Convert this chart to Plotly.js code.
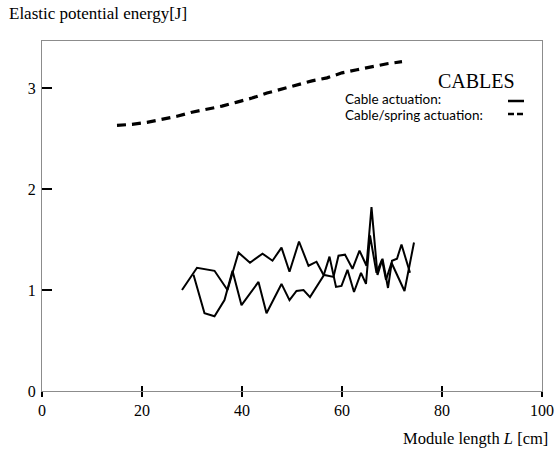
<!DOCTYPE html>
<html>
<head>
<meta charset="utf-8">
<script src="https://cdn.plot.ly/plotly-3.0.1.min.js"></script>
<style>html,body{margin:0;padding:0;background:#fff;}#chart{width:555px;height:450px;}</style>
</head>
<body>
<div id="chart"></div>
<script>
// Cable actuation (series A)
const cableAX = [28.0, 31.0, 34.5, 37.1, 39.3, 41.6, 44.1, 46.1, 47.9, 49.5, 51.4, 53.3, 54.9, 56.3, 58.3, 59.3, 60.6, 62.1, 63.5, 64.9, 65.9, 67.1, 68.1, 69.2, 70.0, 71.0, 71.9, 73.6];
const cableAY = [1.00, 1.22, 1.19, 1.00, 1.37, 1.27, 1.36, 1.29, 1.42, 1.18, 1.48, 1.24, 1.28, 1.15, 1.13, 1.34, 1.35, 1.21, 1.39, 1.24, 1.82, 1.15, 1.31, 1.02, 1.29, 1.31, 1.45, 1.17];
// Cable actuation (series B)
const cableBX = [30.3, 32.5, 34.5, 36.5, 38.1, 39.9, 43.3, 44.9, 47.9, 49.5, 50.9, 52.3, 53.6, 56.3, 57.5, 58.8, 59.9, 61.1, 62.4, 63.8, 64.8, 65.6, 66.9, 68.0, 68.8, 69.9, 72.5, 74.4];
const cableBY = [1.15, 0.77, 0.74, 0.90, 1.19, 0.85, 1.08, 0.77, 1.06, 0.90, 0.99, 1.00, 0.93, 1.14, 1.33, 1.03, 1.04, 1.20, 0.98, 1.17, 1.06, 1.54, 1.17, 1.30, 1.10, 1.27, 0.99, 1.47];
// Cable/spring actuation
const springX = [15, 18, 21, 24, 27, 30, 33, 36, 39, 42, 45, 48, 51, 54, 57, 60, 63, 66, 69, 72];
const springY = [2.63, 2.64, 2.66, 2.69, 2.72, 2.76, 2.79, 2.82, 2.86, 2.90, 2.95, 2.99, 3.03, 3.07, 3.10, 3.15, 3.18, 3.21, 3.24, 3.26];

const xTicks = [0, 20, 40, 60, 80, 100];
const yTicks = [0, 1, 2, 3];

const serif = "Liberation Serif, Times New Roman, serif";
const sans = "Lato, Liberation Sans, sans-serif";

const traces = [
  {x: cableAX, y: cableAY, mode: 'lines', line: {color: '#000', width: 2}, showlegend: false},
  {x: cableBX, y: cableBY, mode: 'lines', line: {color: '#000', width: 2}, showlegend: false},
  {x: springX, y: springY, mode: 'lines', line: {color: '#000', width: 3.2, dash: '9px,6px'}, showlegend: false},
  {x: [null], y: [null], xaxis: 'x2', yaxis: 'y', mode: 'lines', showlegend: false, hoverinfo: 'skip'}
];

// paper helpers for legend / titles (plot area: 42..542 x, 41..391 y)
const px = v => (v - 42) / 500;
const py = v => (391 - v) / 350;

const layout = {
  width: 555, height: 450,
  margin: {l: 42, r: 13, t: 41, b: 59},
  paper_bgcolor: '#fff', plot_bgcolor: '#fff',
  showlegend: false,
  xaxis: {
    range: [0, 100], tickvals: xTicks, ticktext: xTicks.map(String),
    ticks: 'outside', ticklen: 5, tickwidth: 2, tickcolor: '#000',
    showline: true, linecolor: '#8c8c8c', linewidth: 1, mirror: true,
    showgrid: false, zeroline: false,
    tickfont: {family: serif, size: 16, color: '#000'}
  },
  xaxis2: {
    range: [0, 100], overlaying: 'x', anchor: 'y', tickvals: xTicks,
    ticks: 'inside', ticklen: 5, tickwidth: 2, tickcolor: '#000',
    showticklabels: false, showline: false, showgrid: false, zeroline: false, side: 'bottom'
  },
  yaxis: {
    range: [0, 3.465], tickvals: yTicks, ticktext: yTicks.map(String),
    ticks: 'inside', ticklen: 10, tickwidth: 2, tickcolor: '#000',
    showline: true, linecolor: '#8c8c8c', linewidth: 1, mirror: true,
    showgrid: false, zeroline: false, ticklabelstandoff: 2,
    tickfont: {family: serif, size: 16, color: '#000'}
  },
  annotations: [
    {xref: 'paper', yref: 'paper', x: px(7), y: py(14), xanchor: 'left', yanchor: 'middle', showarrow: false,
     text: 'Elastic potential energy[J]', font: {family: serif, size: 17, color: '#000'}},
    {xref: 'paper', yref: 'paper', x: px(550), y: py(438), xanchor: 'right', yanchor: 'middle', showarrow: false,
     text: 'Module length <i>L</i> [cm]', font: {family: serif, size: 16.5, color: '#000'}},
    {xref: 'paper', yref: 'paper', x: px(476), y: py(81), xanchor: 'center', yanchor: 'middle', showarrow: false,
     text: 'CABLES', font: {family: serif, size: 20, color: '#000'}},
    {xref: 'paper', yref: 'paper', x: px(343), y: py(99), xanchor: 'left', yanchor: 'middle', showarrow: false,
     text: 'Cable actuation:', font: {family: sans, size: 13.5, color: '#000'}},
    {xref: 'paper', yref: 'paper', x: px(343), y: py(115), xanchor: 'left', yanchor: 'middle', showarrow: false,
     text: 'Cable/spring actuation:', font: {family: sans, size: 13.5, color: '#000'}}
  ],
  shapes: [
    {type: 'line', xref: 'paper', yref: 'paper', x0: px(508), x1: px(524), y0: py(101), y1: py(101),
     line: {color: '#000', width: 2.5}},
    {type: 'line', xref: 'paper', yref: 'paper', x0: px(508), x1: px(524), y0: py(114), y1: py(114),
     line: {color: '#000', width: 2.5, dash: '6px,3px'}}
  ]
};

Plotly.newPlot('chart', traces, layout, {displayModeBar: false, staticPlot: true});
</script>
</body>
</html>
